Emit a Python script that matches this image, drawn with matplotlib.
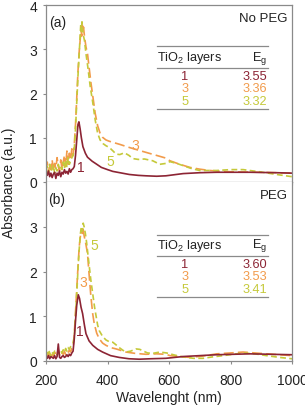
import numpy as np
import matplotlib
matplotlib.use("Agg")
import matplotlib.pyplot as plt

plt.rcParams['font.family'] = ['Liberation Sans', 'DejaVu Sans']
plt.rcParams['mathtext.default'] = 'regular'

C1 = '#8c2434'
C3 = '#f29b4b'
C5 = '#c5c93a'

# noisy region 200-288 nm, 4 nm steps
wl_noise = list(range(200, 289, 4))

# ---- panel (a): no PEG ----
a1_noise = [0.22, 0.15, 0.25, 0.12, 0.2, 0.1, 0.18, 0.22, 0.08, 0.2, 0.15, 0.25,
            0.12, 0.22, 0.18, 0.28, 0.2, 0.24, 0.18, 0.3, 0.22, 0.28, 0.3]
a3_noise = [0.3, 0.45, 0.2, 0.4, 0.28, 0.5, 0.25, 0.42, 0.3, 0.55, 0.35, 0.25,
            0.5, 0.3, 0.45, 0.6, 0.35, 0.7, 0.4, 0.65, 0.5, 0.75, 0.6]
a5_noise = [0.25, 0.35, 0.2, 0.4, 0.25, 0.3, 0.38, 0.2, 0.32, 0.25, 0.4, 0.3,
            0.35, 0.28, 0.45, 0.3, 0.5, 0.35, 0.55, 0.4, 0.48, 0.55, 0.6]

a1_wl = [292, 296, 300, 304, 307, 311, 315, 320, 328, 335, 350, 363, 380, 400, 417,
         440, 471, 500, 525, 560, 590, 646, 700, 755, 863, 950, 1000]
a1_ab = [0.35, 0.6, 0.95, 1.3, 1.36, 1.2, 1.0, 0.8, 0.65, 0.56, 0.47, 0.41, 0.33, 0.28, 0.24,
         0.21, 0.17, 0.15, 0.14, 0.13, 0.14, 0.19, 0.21, 0.22, 0.22, 0.21, 0.2]

a3_wl = [292, 296, 300, 304, 308, 311, 314, 316, 318, 320, 322, 325, 330, 335, 340, 346,
         352, 360, 368, 376, 384, 395, 406, 440, 471, 500, 525, 560, 590, 603, 635, 668,
         700, 733, 770, 809, 895, 950, 1000]
a3_ab = [0.85, 1.3, 1.9, 2.5, 2.95, 3.2, 3.45, 3.3, 3.55, 3.4, 3.5, 3.3, 3.05, 2.9, 2.6, 2.25,
         1.95, 1.55, 1.27, 1.1, 1.01, 0.95, 0.92, 0.85, 0.78, 0.72, 0.67, 0.6, 0.54, 0.48, 0.4, 0.33,
         0.29, 0.26, 0.24, 0.23, 0.22, 0.21, 0.2]

a5_wl = [292, 296, 300, 304, 308, 311, 313, 315, 317, 319, 322, 325, 330, 336, 344, 352,
         360, 368, 376, 385, 395, 406, 418, 428, 440, 455, 470, 482, 500, 520, 547, 570,
         590, 603, 625, 646, 675, 700, 755, 800, 841, 895, 950, 1000]
a5_ab = [0.75, 1.2, 1.8, 2.4, 2.9, 3.3, 3.55, 3.4, 3.62, 3.45, 3.3, 3.2, 2.9, 2.6, 2.15, 1.8,
         1.4, 1.1, 0.95, 0.87, 0.82, 0.78, 0.7, 0.63, 0.62, 0.66, 0.6, 0.53, 0.51, 0.52, 0.48, 0.4,
         0.42, 0.46, 0.42, 0.37, 0.3, 0.26, 0.26, 0.28, 0.28, 0.23, 0.17, 0.12]

# ---- panel (b): PEG ----
b1_noise = [0.1, 0.06, 0.12, 0.05, 0.1, 0.08, 0.06, 0.12, 0.05, 0.1, 0.38, 0.08,
            0.06, 0.1, 0.12, 0.08, 0.1, 0.14, 0.1, 0.15, 0.12, 0.18, 0.22]
b3_noise = [0.15, 0.1, 0.18, 0.12, 0.08, 0.15, 0.1, 0.2, 0.12, 0.16, 0.25, 0.14,
            0.1, 0.18, 0.15, 0.22, 0.14, 0.2, 0.18, 0.25, 0.2, 0.28, 0.3]
b5_noise = [0.22, 0.15, 0.25, 0.18, 0.12, 0.2, 0.15, 0.22, 0.18, 0.14, 0.2, 0.16,
            0.22, 0.18, 0.25, 0.2, 0.28, 0.22, 0.3, 0.26, 0.32, 0.35, 0.4]

b1_wl = [292, 296, 300, 305, 309, 314, 319, 325, 330, 340, 352, 368, 384, 410, 438,
         470, 503, 540, 590, 646, 700, 755, 863, 1000]
b1_ab = [0.5, 0.9, 1.25, 1.48, 1.4, 1.2, 1.06, 0.8, 0.61, 0.45, 0.35, 0.26, 0.2, 0.12, 0.08,
         0.05, 0.04, 0.05, 0.06, 0.1, 0.12, 0.14, 0.16, 0.14]

b3_wl = [292, 296, 300, 304, 308, 312, 316, 318, 320, 324, 330, 335, 340, 346, 352, 357,
         365, 373, 384, 395, 410, 428, 460, 490, 525, 560, 590, 603, 668, 710, 755, 800,
         841, 917, 1000]
b3_ab = [0.6, 1.1, 1.6, 2.1, 2.55, 2.8, 2.95, 2.85, 2.98, 2.8, 2.6, 2.4, 1.95, 1.44, 1.05, 0.83,
         0.62, 0.5, 0.4, 0.35, 0.3, 0.27, 0.2, 0.17, 0.15, 0.16, 0.15, 0.12, 0.08, 0.11, 0.16, 0.18,
         0.2, 0.16, 0.12]

b5_wl = [292, 296, 300, 304, 308, 312, 315, 318, 321, 324, 328, 332, 336, 341, 346, 352,
         358, 363, 368, 373, 384, 395, 406, 417, 428, 438, 450, 460, 475, 493, 505, 514,
         530, 547, 570, 592, 620, 646, 680, 711, 740, 776, 841, 880, 917, 960, 1000]
b5_ab = [0.55, 1.0, 1.5, 2.05, 2.5, 2.85, 3.0, 2.9, 3.08, 3.0, 2.85, 2.65, 2.4, 2.1, 1.8, 1.5,
         1.2, 1.0, 0.8, 0.68, 0.55, 0.47, 0.43, 0.42, 0.36, 0.3, 0.24, 0.2, 0.22, 0.27, 0.26, 0.23,
         0.18, 0.17, 0.2, 0.18, 0.13, 0.09, 0.06, 0.06, 0.09, 0.12, 0.18, 0.16, 0.12, 0.08, 0.05]

layers = ['1', '3', '5']
eg_a = ['3.55', '3.36', '3.32']
eg_b = ['3.60', '3.53', '3.41']
colors = [C1, C3, C5]

W, H = 305, 406
fig = plt.figure(figsize=(W / 100, H / 100), dpi=100)
ax_a = fig.add_axes([46 / W, 1 - 183 / H, 246 / W, 177 / H])
ax_b = fig.add_axes([46 / W, 1 - 362 / H, 246 / W, 179 / H], sharex=ax_a)


def draw(ax, noise, curves):
    styles = [dict(ls='-'), dict(dashes=(6, 2.5)), dict(dashes=(3.5, 2))]
    # draw 1 last so it sits on top
    for i in [1, 2, 0]:
        x = wl_noise + curves[i][0]
        y = noise[i] + curves[i][1]
        ax.plot(x, y, color=colors[i], lw=1.2, **styles[i])


draw(ax_a, [a1_noise, a3_noise, a5_noise], [(a1_wl, a1_ab), (a3_wl, a3_ab), (a5_wl, a5_ab)])
draw(ax_b, [b1_noise, b3_noise, b5_noise], [(b1_wl, b1_ab), (b3_wl, b3_ab), (b5_wl, b5_ab)])

for ax in (ax_a, ax_b):
    ax.set_xlim(200, 1000)
    ax.set_ylim(0, 4)
    for s in ax.spines.values():
        s.set_color('#8a8a8a')
        s.set_linewidth(0.9)
    ax.tick_params(direction='out', length=2.5, width=0.8, color='#8a8a8a',
                   labelsize=10, labelcolor='#222222')
    ax.tick_params(axis='x', pad=6)
    ax.tick_params(axis='y', pad=4)

ax_a.set_yticks([0, 1, 2, 3, 4])
ax_b.set_yticks([0, 1, 2, 3])
ax_b.set_xticks([200, 400, 600, 800, 1000])
ax_a.tick_params(axis='x', labelbottom=False)
ax_b.spines['top'].set_visible(False)


def table(ax, y_top, y_head, y_mid, rows_y, y_bot, egs):
    x0, x1 = 561, 922
    for yy in (y_top, y_mid, y_bot):
        ax.plot([x0, x1], [yy, yy], color='#8a8a8a', lw=0.9)
    ax.text(x0, y_head, 'TiO$_2$ layers', fontsize=9.2, ha='left', va='center', color='#222222')
    ax.text(x1 - 3, y_head, 'E$_g$', fontsize=9.2, ha='right', va='center', color='#222222')
    for lab, eg, col, yy in zip(layers, egs, colors, rows_y):
        ax.text(652, yy, lab, fontsize=9.2, ha='center', va='center', color=col)
        ax.text(x1 - 3, yy, eg, fontsize=9.2, ha='right', va='center', color=col)


table(ax_a, 3.07, 2.82, 2.57, [2.4, 2.12, 1.83], 1.65, eg_a)
table(ax_b, 2.82, 2.6, 2.35, [2.17, 1.9, 1.6], 1.42, eg_b)

ax_a.text(238, 3.62, '(a)', fontsize=10, ha='center', va='center', color='#222222')
ax_a.text(985, 3.7, 'No PEG', fontsize=9.5, ha='right', va='center', color='#222222')
ax_b.text(236, 3.62, '(b)', fontsize=10, ha='center', va='center', color='#222222')
ax_b.text(985, 3.7, 'PEG', fontsize=9.5, ha='right', va='center', color='#222222')

# curve labels
ax_a.text(313, 0.34, '1', fontsize=10, color=C1, ha='center', va='center')
ax_a.text(489, 0.83, '3', fontsize=10, color=C3, ha='center', va='center')
ax_a.text(408, 0.47, '5', fontsize=10, color=C5, ha='center', va='center')
ax_b.text(310, 0.68, '1', fontsize=10, color=C1, ha='center', va='center')
ax_b.text(320, 1.76, '3', fontsize=10, color=C3, ha='center', va='center')
ax_b.text(356, 2.59, '5', fontsize=10, color=C5, ha='center', va='center')

fig.text(9 / W, 1 - 183 / H, 'Absorbance (a.u.)', rotation=90, fontsize=10,
         ha='center', va='center', color='#222222')
fig.text(169 / W, 1 - 398 / H, 'Wavelenght (nm)', fontsize=10,
         ha='center', va='center', color='#222222')

fig.savefig('out.png', dpi=100)
